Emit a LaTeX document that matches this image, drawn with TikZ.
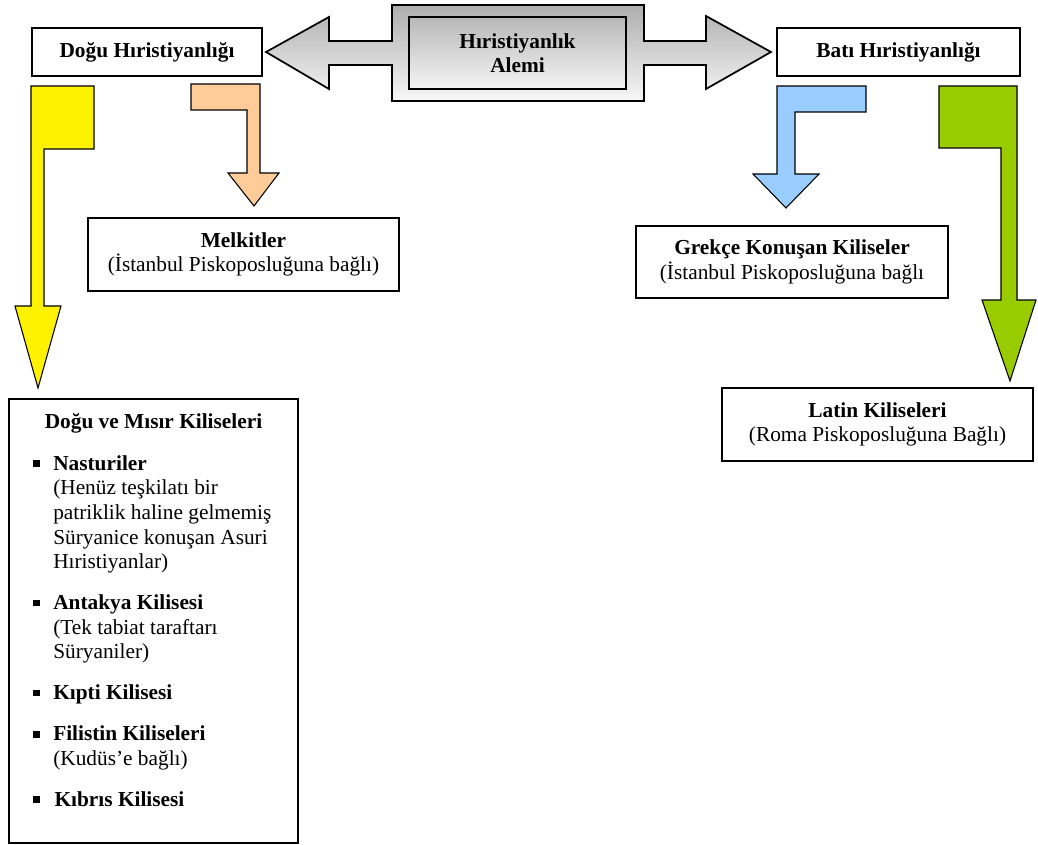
\documentclass[tikz,border=0pt]{standalone}
\usepackage{fontspec}
\setmainfont{Liberation Serif}
\usetikzlibrary{positioning}

\newcommand{\maddeisareti}{\hspace{0.75pt}\rule[2.5pt]{5pt}{5pt}}

\begin{document}
\begin{tikzpicture}[
        x=0.75pt, y=-0.75pt,
        anakutu/.style={draw, line width=2.2pt, rectangle, fill=white, minimum height=36pt, align=center, inner sep=0pt, font=\fontsize{16}{18.4}\selectfont\bfseries},
        alemkutu/.style={draw, line width=1.3pt, rectangle, top color=black!28, bottom color=black!4, minimum width=162.75pt, minimum height=54pt, align=center, inner sep=0pt, font=\fontsize{16}{18}\selectfont\bfseries},
        kutu/.style={draw, line width=1pt, rectangle, fill=white, minimum width=233.25pt, minimum height=54.75pt, align=center, inner sep=0pt, font=\fontsize{16}{18.4}\selectfont},
        liste/.style={inner sep=0pt, align=left, font=\fontsize{16}{18.4}\selectfont},
        okgri/.style={draw, line width=1.3pt, line join=miter, top color=black!32, bottom color=black!3},
        ok/.style={draw, line width=0.8pt, line join=miter}
    ]
        \useasboundingbox (0,0) rectangle (1038,845);

        % Double arrow
        \path[okgri] (266,52) -- (329,17) -- (329,41) -- (392,41) -- (392,5) -- (644,5) -- (644,41) -- (706,41) -- (706,16) -- (771,52) -- (706,89) -- (706,65) -- (644,65) -- (644,101) -- (392,101) -- (392,65) -- (329,65) -- (329,89) -- cycle;

        % Nodes
        \node[alemkutu] (alem) at (517.5,53) {H\i ristiyanl\i k\\Alemi};
        \node[anakutu, minimum width=172.5pt] (dogu) at (147,52) {Doğu Hıristiyanlığı};
        \node[anakutu, minimum width=182.25pt] (bati) at (898.5,52) {Batı Hıristiyanlığı};
        \node[kutu] (melkit) at (243.5,254.5) {\textbf{Melkitler}\\(İstanbul Piskoposluğuna bağlı)};
        \node[kutu, minimum width=234pt, minimum height=54pt] (grekce) at (792,262) {\textbf{Grekçe Konuşan Kiliseler}\\(İstanbul Piskoposluğuna bağlı};
        \node[kutu] (latin) at (877.5,424.5) {\textbf{Latin Kiliseleri}\\(Roma Piskoposluğuna Bağlı)};
        \node[kutu, minimum width=216.75pt, minimum height=333pt] (misir) at (153.5,621) {};
        \node[liste, anchor=base] (misirbaslik) at (153.5,428) {\textbf{Doğu ve Mısır Kiliseleri}};
        \node[liste, anchor=north west] (maddeler) at (32,453) {%
            \begin{tabular}{@{}p{15.75pt}@{}l@{}}
                \maddeisareti & \textbf{Nasturiler}\\
                 & (Henüz teşkilatı bir\\
                 & patriklik haline gelmemiş\\
                 & Süryanice konuşan Asuri\\
                 & Hıristiyanlar)\\[12.4pt]
                \maddeisareti & \textbf{Antakya Kilisesi}\\
                 & (Tek tabiat taraftarı\\
                 & Süryaniler)\\[12.4pt]
                \maddeisareti & \textbf{Kıpti Kilisesi}\\[12.4pt]
                \maddeisareti & \textbf{Filistin Kiliseleri}\\
                 & (Kudüs’e bağlı)\\[12.4pt]
                \maddeisareti & \hspace{1pt}\textbf{Kıbrıs Kilisesi}
            \end{tabular}};

        % Arrows
        \path[ok, fill=yellow] (31,86) -- (94,86) -- (94,149) -- (44,149) -- (44,306) -- (61,306) -- (38,388) -- (15,306) -- (31,306) -- cycle;
        \path[ok, fill={rgb,255:red,255;green,204;blue,153}] (191,84) -- (260,84) -- (260,173) -- (279,173) -- (254,206) -- (228,173) -- (247,173) -- (247,110) -- (191,110) -- cycle;
        \path[ok, fill={rgb,255:red,153;green,204;blue,255}] (777,86) -- (866,86) -- (866,112) -- (795,112) -- (795,174) -- (819,174) -- (786,208) -- (753,174) -- (777,174) -- cycle;
        \path[ok, fill={rgb,255:red,153;green,204;blue,0}] (939,86) -- (1017,86) -- (1017,300) -- (1036,300) -- (1010,381) -- (982,300) -- (1001,300) -- (1001,148) -- (939,148) -- cycle;
    \end{tikzpicture}
\end{document}
